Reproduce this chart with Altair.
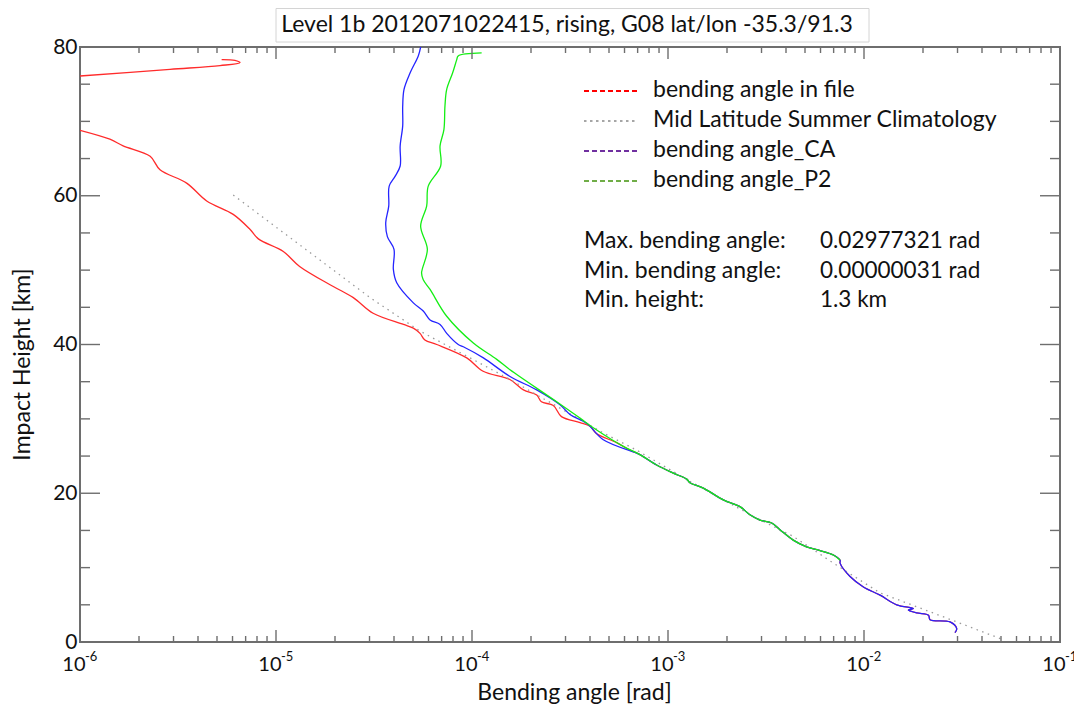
import altair as alt
import pandas as pd

TITLE = "Level 1b 2012071022415, rising, G08 lat/lon -35.3/91.3"
X_TITLE = "Bending angle [rad]"
Y_TITLE = "Impact Height [km]"

# ---------------- data ----------------
# bending angle in file (red): short upper fragment
red_top_km = [76.1, 77.0, 77.5, 77.9, 78.2, 78.3]
red_top_ba = [1.00e-6, 2.88e-6, 5.18e-6, 6.55e-6, 6.17e-6, 5.28e-6]

# bending angle in file (red): main profile above ~25 km
red_km = [68.8, 67.6, 66.7, 65.3, 63.5, 61.7, 59.3, 57.5, 55.5, 54.2, 52.5, 50.5,
          47.8, 46.3, 44.2, 42.7, 42.2, 41.5, 40.6, 40.0, 38.2, 36.4, 35.3, 33.9,
          33.2, 32.3, 31.8, 30.3, 29.5, 29.0, 28.0, 26.8, 25.8]
red_ba = [1.00e-6, 1.42e-6, 1.66e-6, 2.28e-6, 2.56e-6, 3.50e-6, 4.43e-6, 6.05e-6,
          7.36e-6, 8.13e-6, 1.09e-5, 1.32e-5, 1.96e-5, 2.48e-5, 3.13e-5, 4.47e-5,
          5.02e-5, 5.43e-5, 5.75e-5, 6.61e-5, 9.40e-5, 1.14e-4, 1.56e-4, 1.83e-4,
          2.14e-4, 2.26e-4, 2.60e-4, 2.86e-4, 3.56e-4, 4.00e-4, 4.33e-4, 5.47e-4, 6.40e-4]

# bending angle_CA (blue): profile above ~25 km
ca_km = [80.0, 78.8, 76.5, 74.3, 72.0, 69.4, 66.7, 64.0, 62.6, 61.3, 58.6, 56.4,
         54.5, 52.8, 50.1, 48.3, 45.6, 44.5, 43.3, 42.7, 41.5, 40.0, 39.7, 38.2,
         35.7, 33.9, 31.9, 30.6, 29.4, 27.2, 25.4]
ca_ba = [5.47e-5, 5.32e-5, 4.83e-5, 4.50e-5, 4.43e-5, 4.43e-5, 4.30e-5, 4.30e-5,
         4.05e-5, 3.78e-5, 3.76e-5, 3.63e-5, 3.70e-5, 4.00e-5, 3.97e-5, 4.13e-5,
         5.02e-5, 5.64e-5, 6.11e-5, 6.87e-5, 7.43e-5, 8.51e-5, 9.03e-5, 1.143e-4,
         1.563e-4, 2.138e-4, 2.812e-4, 3.162e-4, 3.846e-4, 4.677e-4, 6.918e-4]

# bending angle_P2 (green): profile above ~25 km
p2_km = [79.2, 78.8, 78.3, 76.5, 74.3, 72.1, 68.9, 66.7, 64.0, 61.3, 58.6, 55.9,
         52.8, 49.6, 48.7, 47.4, 43.8, 40.2, 38.0, 36.6, 32.3, 30.1, 28.5, 26.3]
p2_ba = [1.12e-4, 8.5e-5, 8.36e-5, 7.96e-5, 7.43e-5, 7.28e-5, 7.19e-5, 6.87e-5,
         6.92e-5, 5.98e-5, 5.87e-5, 5.47e-5, 5.92e-5, 5.53e-5, 5.64e-5, 6.11e-5,
         7.43e-5, 1.016e-4, 1.337e-4, 1.563e-4, 2.704e-4, 3.556e-4, 4.325e-4, 5.916e-4]

# common lower profile (red, blue and green overlap), 25 km - 11 km
low_km = [25.2, 23.8, 22.7, 21.9, 21.4, 20.7, 19.1, 18.2, 17.1, 16.4, 16.0, 15.1,
          13.7, 12.8, 12.3, 11.7, 11.0]
low_ba = [7.19e-4, 8.75e-4, 1.064e-3, 1.245e-3, 1.294e-3, 1.514e-3, 1.914e-3,
          2.328e-3, 2.618e-3, 2.944e-3, 3.381e-3, 3.724e-3, 4.355e-3, 5.093e-3,
          5.970e-3, 6.982e-3, 7.55e-3]

# lowest part (red and blue), below 11 km
tail_km = [10.6, 8.8, 7.4, 6.3, 5.0, 4.5, 4.3, 3.9, 3.6, 3.0, 2.7, 1.8, 1.25]
tail_ba = [7.55e-3, 8.49e-3, 9.93e-3, 1.208e-2, 1.469e-2, 1.786e-2, 1.683e-2,
           1.858e-2, 2.133e-2, 2.173e-2, 2.748e-2, 2.972e-2, 2.911e-2]

# Mid Latitude Summer Climatology (gray dotted)
clim_km = [60.1, 46.3, 41.8, 38.2, 35.3, 31.7, 28.1, 25.8, 21.6, 16.9, 14.2, 10.6,
           6.6, 2.7, 0.3]
clim_ba = [6.05e-6, 3.02e-5, 5.43e-5, 9.77e-5, 1.563e-4, 2.704e-4, 4.677e-4,
           6.918e-4, 1.294e-3, 2.723e-3, 4.355e-3, 6.982e-3, 1.208e-2, 2.972e-2, 5.14e-2]

# axis ticks and labels
x_major = [1e-6, 1e-5, 1e-4, 1e-3, 1e-2, 1e-1]
x_exponents = ["-6", "-5", "-4", "-3", "-2", "-1"]
x_minor = [m * d for d in x_major[:-1] for m in range(2, 10)]
y_major = [0, 20, 40, 60, 80]
y_minor = [5, 10, 15, 25, 30, 35, 45, 50, 55, 65, 70, 75]

legend_labels = ["bending angle in file", "Mid Latitude Summer Climatology",
                 "bending angle_CA", "bending angle_P2"]
stat_labels = ["Max. bending angle:", "Min. bending angle:", "Min. height:"]
stat_values = ["0.02977321 rad", "0.00000031 rad", "1.3 km"]

# ---------------- chart ----------------
W, H = 980, 595
FONT = "Lato"
TXT = "#111111"
TICK = "#6e6e6e"

xs = alt.Scale(type="log", domain=[1e-6, 1e-1], nice=False)
ys = alt.Scale(domain=[0, 80], nice=False)

XA = alt.Axis(values=x_major, labelExpr="'10'", labelFontSize=20,
              labelAlign="right", labelOffset=5, labelBaseline="alphabetic",
              labelPadding=28, title=X_TITLE, titleFontSize=23,
              titleBaseline="alphabetic", titleY=57, titleX=494)
YA = alt.Axis(values=y_major, labelFontSize=21, labelPadding=3,
              title=Y_TITLE, titleFontSize=23, titleAngle=270,
              titleBaseline="alphabetic", titleX=-51, titleY=317)


def X():
    return alt.X("ba:Q", scale=xs, axis=XA)


def Y():
    return alt.Y("km:Q", scale=ys, axis=YA)


def profile(parts):
    rows = []
    for seg, (kms, bas) in enumerate(parts):
        for k, b in zip(kms, bas):
            rows.append({"seg": seg, "i": len(rows), "km": k, "ba": b})
    return pd.DataFrame(rows)


red_df = profile([(red_top_km, red_top_ba),
                  (red_km + low_km + tail_km, red_ba + low_ba + tail_ba)])
ca_df = profile([(ca_km + low_km + tail_km, ca_ba + low_ba + tail_ba)])
p2_df = profile([(p2_km + low_km, p2_ba + low_ba)])
clim_df = profile([(clim_km, clim_ba)])


def line(df, color, width=1.3, dash=None, interp="catmull-rom"):
    kw = dict(color=color, strokeWidth=width, clip=True, interpolate=interp)
    if dash is not None:
        kw["strokeDash"] = dash
    return alt.Chart(df).mark_line(**kw).encode(
        x=X(), y=Y(), order="i:Q", detail="seg:N")


layers = [
    line(red_df, "#ff2b2b"),
    line(clim_df, "#9a9a9a", width=1.3, dash=[1.5, 4.5], interp="linear"),
    line(ca_df, "#2424ff"),
    line(p2_df, "#14ee14"),
]

# inward ticks on all four sides
xmaj_df = pd.DataFrame({"ba": x_major})
xmin_df = pd.DataFrame({"ba": x_minor})
ymaj_df = pd.DataFrame({"km": y_major})
ymin_df = pd.DataFrame({"km": y_minor})


def xticks(df, length):
    bottom = alt.Chart(df).mark_rule(color=TICK, strokeWidth=1.4).encode(
        x=X(), y=alt.value(H), y2=alt.value(H - length))
    top = alt.Chart(df).mark_rule(color=TICK, strokeWidth=1.4).encode(
        x=X(), y=alt.value(0), y2=alt.value(length))
    return [bottom, top]


def yticks(df, length):
    left = alt.Chart(df).mark_rule(color=TICK, strokeWidth=1.4).encode(
        y=Y(), x=alt.value(0), x2=alt.value(length))
    right = alt.Chart(df).mark_rule(color=TICK, strokeWidth=1.4).encode(
        y=Y(), x=alt.value(W), x2=alt.value(W - length))
    return [left, right]


layers += xticks(xmaj_df, 12) + xticks(xmin_df, 6) + yticks(ymaj_df, 20) + yticks(ymin_df, 10)

# exponents of the x tick labels
exp_df = pd.DataFrame({"ba": x_major, "e": x_exponents})
layers.append(
    alt.Chart(exp_df).mark_text(font=FONT, fontSize=13, align="left",
                                baseline="alphabetic", dx=5, color=TXT).encode(
        x=X(), y=alt.value(H + 19), text="e:N")
)

one = pd.DataFrame({"k": [0]})

# title with its light frame
layers.append(alt.Chart(one).mark_rect(filled=False, stroke="#d4d4d4", strokeWidth=1).encode(
    x=alt.value(196), x2=alt.value(789), y=alt.value(-38.5), y2=alt.value(-5)))
layers.append(alt.Chart(one).mark_text(font=FONT, fontSize=23, align="center",
                                       baseline="alphabetic", color=TXT).encode(
    x=alt.value(487), y=alt.value(-15.5), text=alt.value(TITLE)))

# legend inside the plot
legend_styles = [("#ff0000", [5, 3]), ("#a6a6a6", [2.5, 3.5]),
                 ("#7030a0", [5, 3]), ("#70ad47", [5, 3])]
for r, (lab, (col, dash)) in enumerate(zip(legend_labels, legend_styles)):
    ly = 44 + 30 * r
    layers.append(alt.Chart(one).mark_rule(color=col, strokeWidth=2, strokeDash=dash).encode(
        x=alt.value(504), x2=alt.value(558), y=alt.value(ly)))
    layers.append(alt.Chart(one).mark_text(font=FONT, fontSize=23, align="left",
                                           baseline="alphabetic", color=TXT).encode(
        x=alt.value(573), y=alt.value(ly + 5.5), text=alt.value(lab)))

for r, (lab, val) in enumerate(zip(stat_labels, stat_values)):
    sy = 201 + 29.5 * r
    layers.append(alt.Chart(one).mark_text(font=FONT, fontSize=23, align="left",
                                           baseline="alphabetic", color=TXT).encode(
        x=alt.value(504), y=alt.value(sy), text=alt.value(lab)))
    layers.append(alt.Chart(one).mark_text(font=FONT, fontSize=22.5, align="left",
                                           baseline="alphabetic", color=TXT).encode(
        x=alt.value(740), y=alt.value(sy), text=alt.value(val)))

chart = alt.layer(*layers).properties(
    width=W, height=H,
    autosize=alt.AutoSizeParams(type="none"),
    padding={"left": 72, "top": 39, "right": 14, "bottom": 62},
).configure_view(
    stroke="#6e6e6e", strokeWidth=2
).configure_axis(
    grid=False, ticks=False, domain=False, labelFont=FONT, titleFont=FONT,
    labelColor=TXT, titleColor=TXT, titleFontWeight="normal",
)

chart.save("out.html", embed_options={"renderer": "svg", "actions": False})
